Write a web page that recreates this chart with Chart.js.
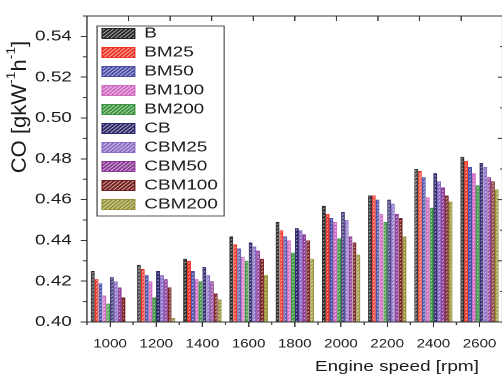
<!DOCTYPE html>
<html>
<head>
<meta charset="utf-8">
<title>CO vs engine speed</title>
<script src="https://cdn.jsdelivr.net/npm/chart.js@4.4.1/dist/chart.umd.min.js"></script>
<style>
  html, body { margin: 0; padding: 0; background: #fff; overflow: hidden; }
  /* the reference is stretched sideways, so the whole drawing is too */
  #wrap { position: absolute; left: 0; top: 0; width: 404px; height: 374px;
          transform: scaleX(1.26); transform-origin: 0 0; }
</style>
</head>
<body>
<div id="wrap"><canvas id="chart" width="404" height="374"></canvas></div>
<script>
// Engine speed categories
const speeds = ['1000', '1200', '1400', '1600', '1800', '2000', '2200', '2400', '2600'];

// CO [g/kWh] per fuel blend
const B      = [0.425, 0.428, 0.431, 0.442, 0.449, 0.457, 0.462, 0.475, 0.481];
const BM25   = [0.421, 0.426, 0.430, 0.438, 0.445, 0.453, 0.462, 0.474, 0.479];
const BM50   = [0.419, 0.423, 0.425, 0.436, 0.442, 0.451, 0.460, 0.471, 0.476];
const BM100  = [0.413, 0.420, 0.421, 0.432, 0.440, 0.449, 0.453, 0.461, 0.473];
const BM200  = [0.409, 0.412, 0.420, 0.430, 0.434, 0.441, 0.449, 0.456, 0.467];
const CB     = [0.422, 0.425, 0.427, 0.439, 0.446, 0.454, 0.460, 0.473, 0.478];
const CBM25  = [0.420, 0.423, 0.423, 0.437, 0.445, 0.450, 0.458, 0.469, 0.476];
const CBM50  = [0.417, 0.421, 0.420, 0.435, 0.443, 0.442, 0.453, 0.466, 0.471];
const CBM100 = [0.412, 0.417, 0.414, 0.431, 0.440, 0.439, 0.451, 0.462, 0.469];
const CBM200 = [0.400, 0.402, 0.411, 0.423, 0.431, 0.433, 0.442, 0.459, 0.465];

const seriesNames  = ['B', 'BM25', 'BM50', 'BM100', 'BM200', 'CB', 'CBM25', 'CBM50', 'CBM100', 'CBM200'];
const seriesValues = [B, BM25, BM50, BM100, BM200, CB, CBM25, CBM50, CBM100, CBM200];
const seriesColors = ['#262626', '#ec3326', '#4a4ea6', '#d06ac2', '#3a953f',
                      '#2c2768', '#8a6cc6', '#8a3894', '#761f1f', '#979236'];

const FONT = '"Liberation Sans", Arial, sans-serif';
const INK = '#1a1a1a';
const AXIS = '#333';

// white diagonal hatch over a solid colour
function hatch(color) {
    const c = document.createElement('canvas');
    c.width = 7; c.height = 7;
    const g = c.getContext('2d');
    g.fillStyle = color;
    g.fillRect(0, 0, 7, 7);
    g.strokeStyle = 'rgba(255,255,255,0.7)';
    g.lineWidth = 1.5;
    g.beginPath();
    g.moveTo(-1, 8); g.lineTo(8, -1);
    g.moveTo(-2, 2); g.lineTo(2, -2);
    g.moveTo(5, 9); g.lineTo(9, 5);
    g.stroke();
    const p = g.createPattern(c, 'repeat');
    p.setTransform(new DOMMatrix().scale(0.5));
    return p;
}

// axis decoration: frame, minor ticks, top/right ticks, axis titles, legend box
const decor = {
    id: 'decor',
    afterLayout(chart) {
        const lg = chart.legend;
        lg.left = chart.chartArea.left + 8;
        lg.top = chart.chartArea.top + 6;
    },
    afterDraw(chart) {
        const { ctx, chartArea: a, scales: { x, y } } = chart;
        const line = (x1, y1, x2, y2) => { ctx.beginPath(); ctx.moveTo(x1, y1); ctx.lineTo(x2, y2); ctx.stroke(); };
        ctx.save();
        ctx.strokeStyle = AXIS;
        ctx.lineWidth = 1;
        ctx.strokeRect(a.left, a.top, a.right - a.left, a.bottom - a.top);

        // left minor ticks
        for (let v = 0.41; v < 0.555; v += 0.02) {
            const py = y.getPixelForValue(v);
            line(a.left - 3.2, py, a.left, py);
        }
        // bottom ticks between categories
        const step = x.getPixelForValue(1) - x.getPixelForValue(0);
        for (let i = 0; i <= speeds.length; i++) {
            const px = x.getPixelForValue(0) + (i - 0.5) * step;
            line(px, a.bottom, px, a.bottom + 3);
        }
        // top ticks (inward)
        const w = a.right - a.left, h = a.bottom - a.top;
        for (let k = 1; k < 10; k++) {
            const px = a.left + k * w / 10;
            line(px, a.top, px, a.top + 5);
        }
        // right ticks (inward)
        for (let k = 1; k < 10; k++) {
            const py = a.top + k * h / 10;
            line(a.right - (k % 2 === 0 ? 4 : 2), py, a.right, py);
        }

        // legend frame
        const lg = chart.legend;
        ctx.strokeStyle = '#555';
        ctx.strokeRect(lg.left, lg.top + 4, lg.width - 5, seriesNames.length * 19);

        // x title
        ctx.fillStyle = INK;
        ctx.font = '15px ' + FONT;
        ctx.textAlign = 'center';
        ctx.textBaseline = 'middle';
        ctx.fillText('Engine speed [rpm]', 315, 367);

        // y title with superscripts, rotated
        const f = 22, fs = 14;
        const parts = [['CO [gkW', f, 0], ['-1', fs, -0.42 * f], ['h', f, 0], ['-1', fs, -0.42 * f], [']', f, 0]];
        ctx.translate(16, 107);
        ctx.rotate(-Math.PI / 2);
        ctx.scale(1, 0.74);
        ctx.textAlign = 'left';
        let total = 0;
        for (const [t, size] of parts) { ctx.font = size + 'px ' + FONT; total += ctx.measureText(t).width; }
        let cx = -total / 2;
        for (const [t, size, dy] of parts) {
            ctx.font = size + 'px ' + FONT;
            ctx.fillText(t, cx, dy);
            cx += ctx.measureText(t).width;
        }
        ctx.restore();
    }
};

const datasets = seriesNames.map((name, i) => ({
    label: name,
    data: seriesValues[i],
    backgroundColor: hatch(seriesColors[i]),
    borderColor: seriesColors[i],
    borderWidth: 1,
    borderSkipped: 'start',
    categoryPercentage: 0.83,
    barPercentage: 1.0
}));

new Chart(document.getElementById('chart'), {
    type: 'bar',
    data: { labels: speeds, datasets: datasets },
    options: {
        responsive: false,
        devicePixelRatio: 2,
        animation: false,
        layout: { padding: { top: 12, right: 1, left: 0, bottom: 0 } },
        plugins: {
            legend: {
                position: 'chartArea',
                align: 'start',
                labels: { boxWidth: 26, boxHeight: 10, padding: 4, color: INK, font: { size: 15, family: FONT } }
            },
            tooltip: { enabled: false }
        },
        scales: {
            x: {
                grid: { drawOnChartArea: false, offset: false, tickLength: 5, color: AXIS },
                border: { color: AXIS },
                ticks: { color: INK, font: { size: 12, family: FONT }, padding: 10, maxRotation: 0 },
                afterFit: s => { s.height = 52; }
            },
            y: {
                min: 0.40,
                max: 0.55,
                grid: { drawOnChartArea: false, tickLength: 5, color: AXIS },
                border: { color: AXIS },
                ticks: { stepSize: 0.02, color: INK, font: { size: 15, family: FONT }, padding: 7,
                         callback: v => v.toFixed(2) },
                afterBuildTicks: s => { s.ticks = s.ticks.filter(t => Math.round(t.value * 100) % 2 === 0); },
                afterFit: s => { s.width = 69; }
            }
        }
    },
    plugins: [decor]
});
</script>
</body>
</html>
